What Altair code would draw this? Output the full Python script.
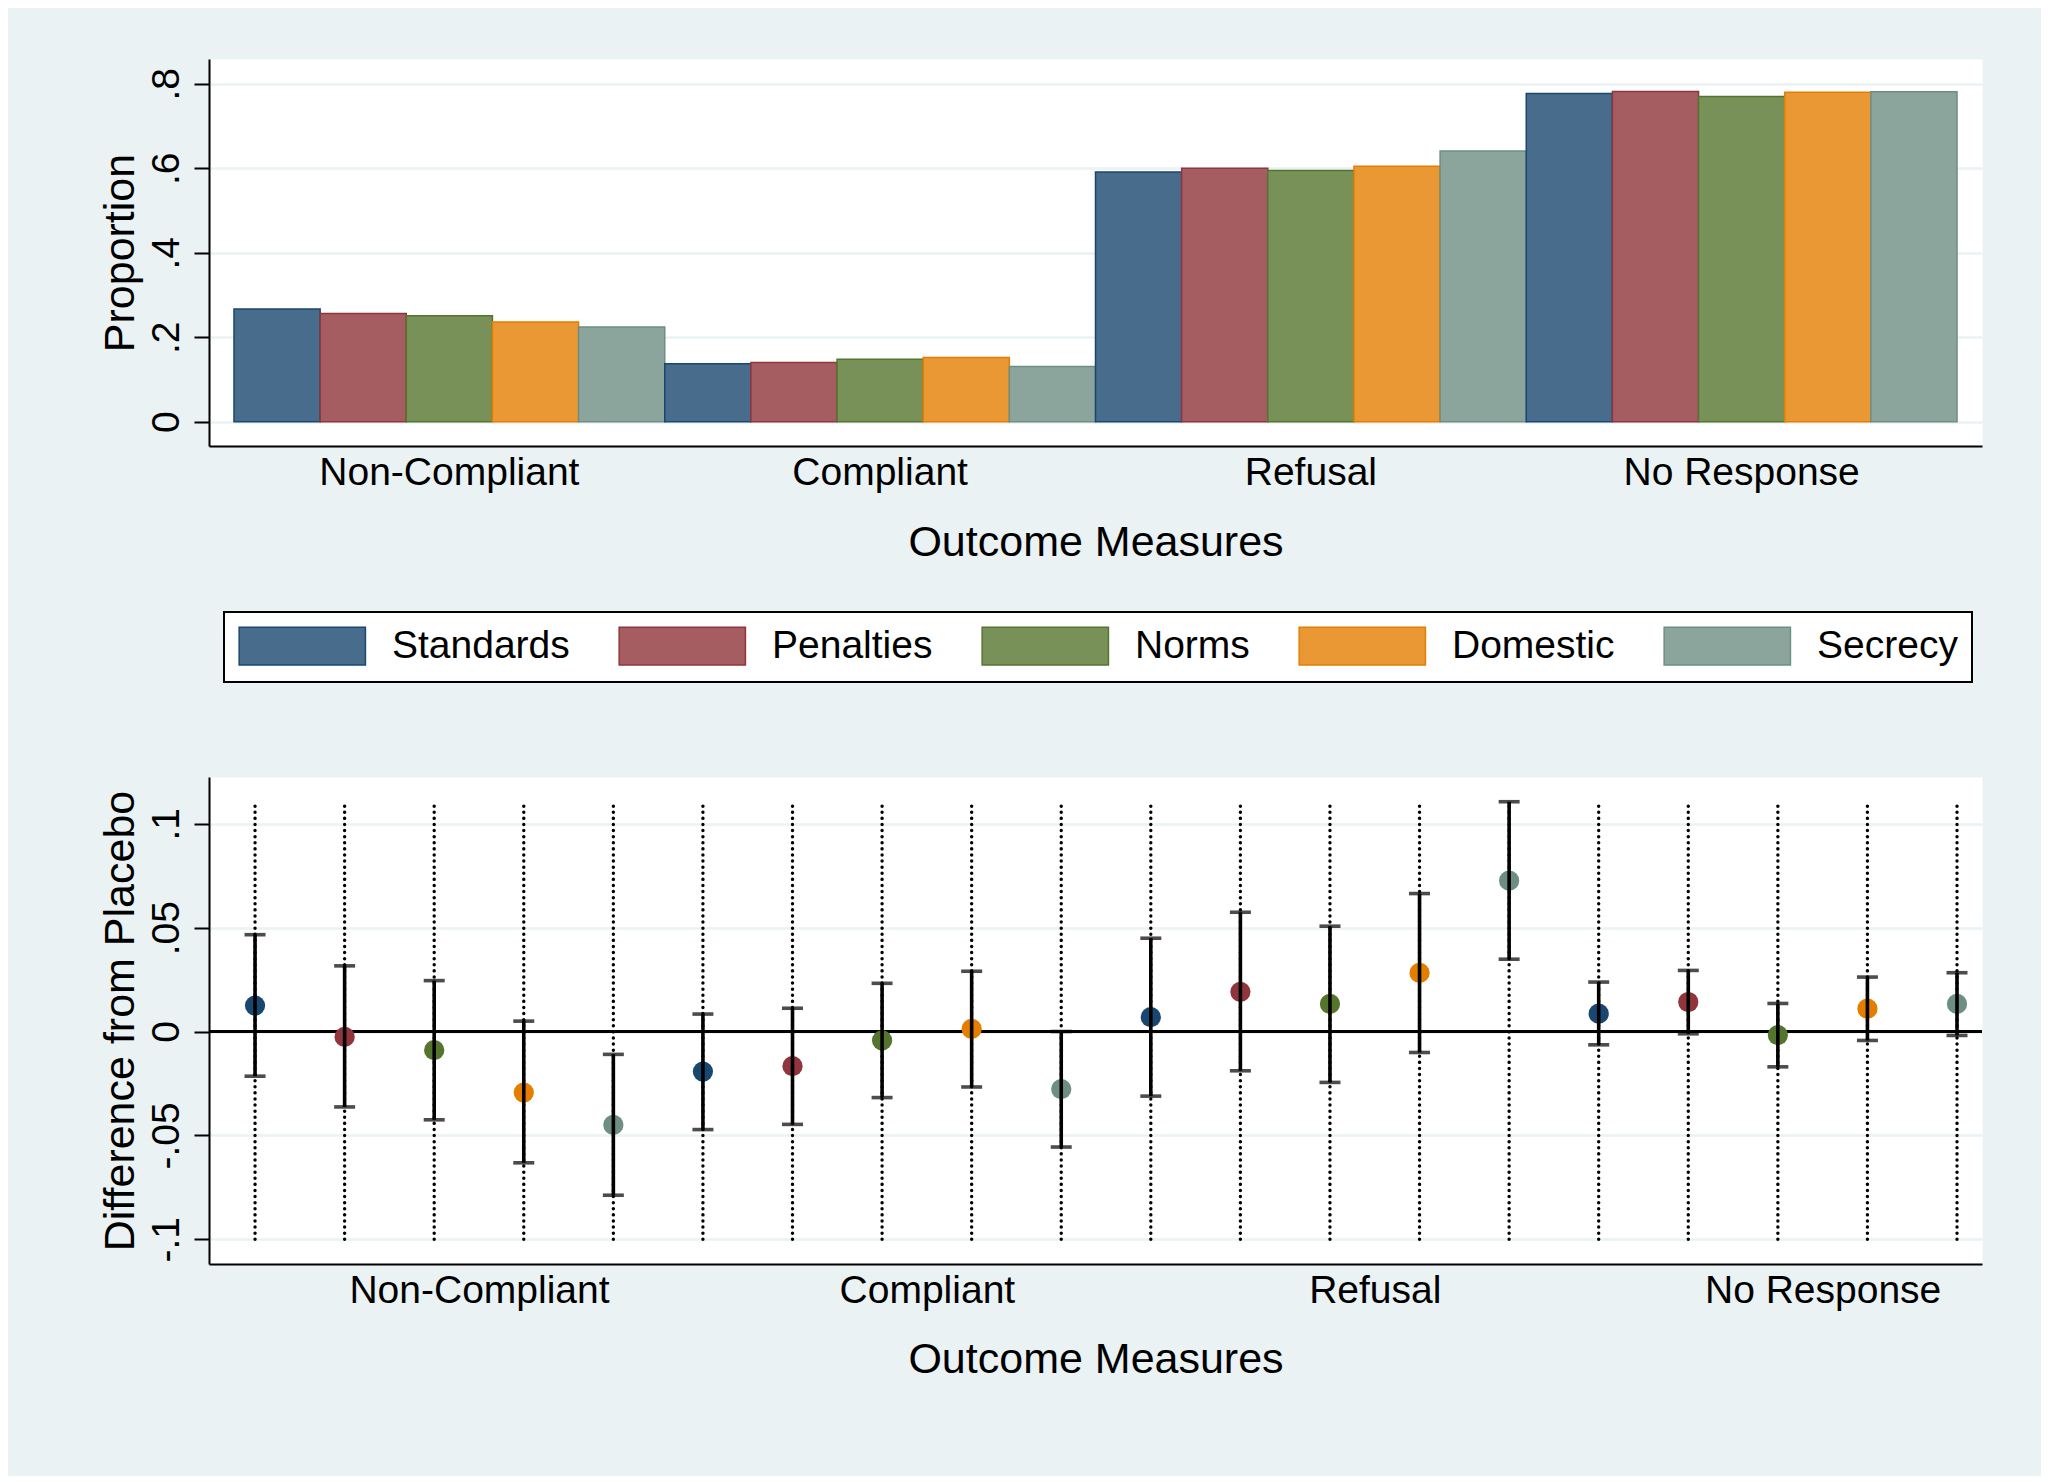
import json
import altair as alt
import pandas as pd

# ---------------- data ----------------
categories = ["Non-Compliant", "Compliant", "Refusal", "No Response"]
series = ["Standards", "Penalties", "Norms", "Domestic", "Secrecy"]

# top panel: proportion of each outcome by treatment
prop_noncompliant = [0.267, 0.256, 0.251, 0.236, 0.224]
prop_compliant = [0.137, 0.140, 0.148, 0.152, 0.131]
prop_refusal = [0.591, 0.600, 0.595, 0.605, 0.641]
prop_noresponse = [0.777, 0.782, 0.770, 0.780, 0.781]

# bottom panel: difference from placebo with confidence interval
diff_noncompliant = [0.0125, -0.0026, -0.0090, -0.0294, -0.0449]
lo_noncompliant = [-0.0215, -0.0363, -0.0425, -0.0632, -0.0788]
hi_noncompliant = [0.0466, 0.0316, 0.0245, 0.0050, -0.0110]
diff_compliant = [-0.0193, -0.0167, -0.0043, 0.0013, -0.0277]
lo_compliant = [-0.0472, -0.0447, -0.0318, -0.0267, -0.0556]
hi_compliant = [0.0084, 0.0112, 0.0232, 0.0290, 0.0000]
diff_refusal = [0.0069, 0.0191, 0.0133, 0.0282, 0.0726]
lo_refusal = [-0.0311, -0.0189, -0.0245, -0.0101, 0.0348]
hi_refusal = [0.0449, 0.0574, 0.0507, 0.0664, 0.1106]
diff_noresponse = [0.0086, 0.0142, -0.0017, 0.0110, 0.0133]
lo_noresponse = [-0.0064, -0.0011, -0.0170, -0.0043, -0.0019]
hi_noresponse = [0.0238, 0.0294, 0.0135, 0.0262, 0.0283]

# extent of the dotted reference lines
ref_line_bottom = -0.100
ref_line_top = 0.109

top_ticks = [0, 0.2, 0.4, 0.6, 0.8]
bottom_ticks = [-0.1, -0.05, 0, 0.05, 0.1]

# ---------------- styles ----------------
fill_colors = ["#486C8C", "#A65D62", "#779159", "#E99833", "#8BA59D"]
line_colors = ["#1A476F", "#90353B", "#55752F", "#E37E00", "#6E8E84"]
BG = "#EAF2F3"
FONT = "Liberation Sans"

props = [prop_noncompliant, prop_compliant, prop_refusal, prop_noresponse]
diffs = [diff_noncompliant, diff_compliant, diff_refusal, diff_noresponse]
los = [lo_noncompliant, lo_compliant, lo_refusal, lo_noresponse]
his = [hi_noncompliant, hi_compliant, hi_refusal, hi_noresponse]

top_rows, bot_rows = [], []
for gi, cat in enumerate(categories):
    for si, s in enumerate(series):
        top_rows.append({"category": cat, "series": s, "proportion": props[gi][si]})
        bot_rows.append({
            "category": cat, "series": s, "pos": gi * 5 + si + 1,
            "diff": diffs[gi][si], "lo": los[gi][si], "hi": his[gi][si],
        })
top_df = pd.DataFrame(top_rows)
bot_df = pd.DataFrame(bot_rows)

num_label = ("datum.value == 0 ? '0' : (datum.value < 0 ? '-' : '') + "
             "replace(format(abs(datum.value), '~g'), '0.', '.')")

legend = alt.Legend(
    title=None, orient="none", legendX=15, legendY=553, direction="horizontal",
    symbolType="M-1,-1H5.7V1H-1Z", symbolSize=1421, symbolStrokeWidth=1.5,
    labelFontSize=39, labelFont=FONT, labelColor="black", labelLimit=600,
    labelOffset=114, columnPadding=46, padding=14,
    strokeColor="black", fillColor="white", symbolOpacity=1,
)

y_axis_common = dict(
    labelAngle=270, labelAlign="center", labelBaseline="bottom",
    labelFontSize=39, titleFontSize=43, labelPadding=8, titlePadding=5,
    tickSize=15, grid=True, gridColor=BG, gridWidth=2.5,
    labelExpr=num_label,
)

top = alt.Chart(top_df).mark_bar(strokeWidth=1.5).encode(
    x=alt.X("category:N", sort=categories,
            scale=alt.Scale(paddingInner=0, paddingOuter=0.058),
            axis=alt.Axis(title="Outcome Measures", labelAngle=0, ticks=False,
                          labelFontSize=39, titleFontSize=43, labelPadding=7,
                          titlePadding=29, grid=False, labelLimit=1000)),
    xOffset=alt.XOffset("series:N", sort=series,
                        scale=alt.Scale(paddingInner=0, paddingOuter=0)),
    y=alt.Y("proportion:Q",
            scale=alt.Scale(domain=[-0.0575, 0.8587], nice=False, zero=False),
            axis=alt.Axis(title="Proportion", values=top_ticks, **y_axis_common)),
    fill=alt.Fill("series:N", sort=series,
                  scale=alt.Scale(domain=series, range=fill_colors), legend=legend),
    stroke=alt.Stroke("series:N", sort=series,
                      scale=alt.Scale(domain=series, range=line_colors), legend=legend),
).properties(width=1773, height=387)

xscale = alt.Scale(domain=[0.486, 20.279], nice=False, zero=False)
yscale = alt.Scale(domain=[-0.1119, 0.1225], nice=False, zero=False)
cat_expr = json.dumps(categories).replace('"', "'") + "[floor(datum.value / 5)]"

xaxis_b = alt.Axis(title="Outcome Measures", values=[3.5, 8.5, 13.5, 18.5],
                   labelExpr=cat_expr, ticks=False, grid=False, labelLimit=1000,
                   labelFontSize=39, titleFontSize=43, labelPadding=7, titlePadding=28)
yaxis_b = alt.Axis(title="Difference from Placebo", values=bottom_ticks, **y_axis_common)

base = alt.Chart(bot_df)
vlines = base.mark_rule(color="black", strokeWidth=3.4, strokeDash=[0.1, 6],
                        strokeCap="round").encode(
    x=alt.X("pos:Q", scale=xscale, axis=xaxis_b),
    y=alt.Y(datum=ref_line_bottom, type="quantitative", scale=yscale, axis=yaxis_b),
    y2=alt.Y2(datum=ref_line_top),
)
zero = base.mark_rule(color="black", strokeWidth=2.8).encode(
    y=alt.Y(datum=0, type="quantitative"))
points = base.mark_circle(size=410, opacity=1).encode(
    x="pos:Q", y="diff:Q",
    color=alt.Color("series:N", sort=series,
                    scale=alt.Scale(domain=series, range=line_colors), legend=None),
)
ci = base.mark_rule(color="black", strokeWidth=3.6).encode(x="pos:Q", y="lo:Q", y2="hi:Q")
cap_lo = base.mark_tick(orient="horizontal", size=21, thickness=3.6, color="black").encode(
    x="pos:Q", y="lo:Q")
cap_hi = base.mark_tick(orient="horizontal", size=21, thickness=3.6, color="black").encode(
    x="pos:Q", y="hi:Q")

bottom = alt.layer(vlines, zero, points, ci, cap_lo, cap_hi).properties(width=1773, height=487)

chart = alt.vconcat(top, bottom, spacing=211).properties(
    padding={"left": 90, "top": 50, "right": 57, "bottom": 94}
).configure(
    background=BG, font=FONT,
).configure_view(
    fill="white", stroke="transparent",
).configure_axis(
    domainColor="black", domainWidth=2, tickColor="black", tickWidth=2,
    labelColor="black", titleColor="black", titleFontWeight="normal",
    labelFont=FONT, titleFont=FONT,
).configure_legend(strokeWidth=2)

chart.save("out.html", embed_options={"renderer": "svg", "actions": False})
